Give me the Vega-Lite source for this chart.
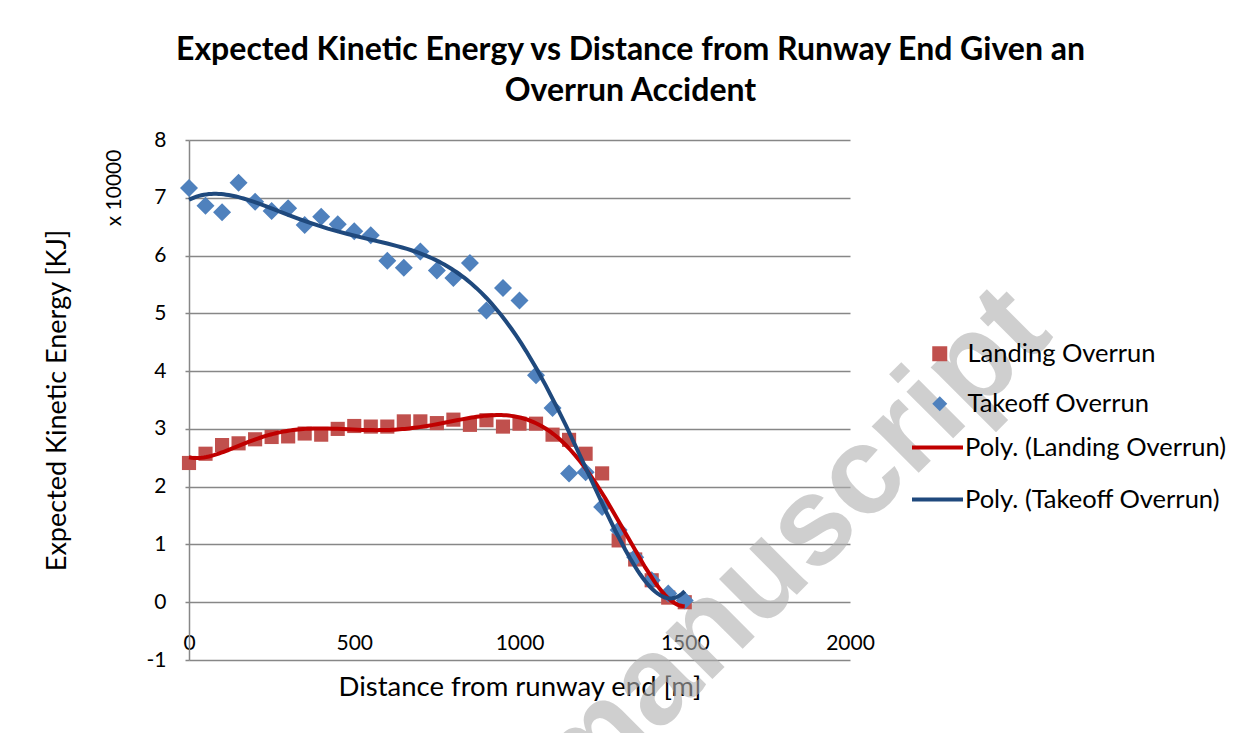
{
  "$schema": "https://vega.github.io/schema/vega-lite/v6.json",
  "width": 661,
  "height": 520,
  "autosize": {"type": "none"},
  "padding": {"left": 189, "top": 140, "right": 406, "bottom": 73},
  "background": "white",
  "config": {
    "font": "Lato",
    "view": {"stroke": null},
    "axis": {"labelColor": "#000000", "titleColor": "#000000", "titleFontWeight": "normal", "labelFont": "Lato", "titleFont": "Lato"}
  },
  "title": {
    "text": ["Expected Kinetic Energy vs Distance from Runway End Given an", "Overrun Accident"],
    "font": "Lato",
    "fontSize": 32,
    "fontWeight": "bold",
    "color": "#000000",
    "anchor": "middle",
    "frame": "group",
    "dx": 111,
    "offset": 21,
    "lineHeight": 41
  },
  "data": {
    "values": [
      {"dist": 0, "energy": 2.41, "series": "Landing Overrun", "trend": "Poly. (Landing Overrun)"},
      {"dist": 50, "energy": 2.57, "series": "Landing Overrun", "trend": "Poly. (Landing Overrun)"},
      {"dist": 100, "energy": 2.72, "series": "Landing Overrun", "trend": "Poly. (Landing Overrun)"},
      {"dist": 150, "energy": 2.75, "series": "Landing Overrun", "trend": "Poly. (Landing Overrun)"},
      {"dist": 200, "energy": 2.82, "series": "Landing Overrun", "trend": "Poly. (Landing Overrun)"},
      {"dist": 250, "energy": 2.86, "series": "Landing Overrun", "trend": "Poly. (Landing Overrun)"},
      {"dist": 300, "energy": 2.87, "series": "Landing Overrun", "trend": "Poly. (Landing Overrun)"},
      {"dist": 350, "energy": 2.92, "series": "Landing Overrun", "trend": "Poly. (Landing Overrun)"},
      {"dist": 400, "energy": 2.90, "series": "Landing Overrun", "trend": "Poly. (Landing Overrun)"},
      {"dist": 450, "energy": 3.00, "series": "Landing Overrun", "trend": "Poly. (Landing Overrun)"},
      {"dist": 500, "energy": 3.05, "series": "Landing Overrun", "trend": "Poly. (Landing Overrun)"},
      {"dist": 550, "energy": 3.04, "series": "Landing Overrun", "trend": "Poly. (Landing Overrun)"},
      {"dist": 600, "energy": 3.04, "series": "Landing Overrun", "trend": "Poly. (Landing Overrun)"},
      {"dist": 650, "energy": 3.13, "series": "Landing Overrun", "trend": "Poly. (Landing Overrun)"},
      {"dist": 700, "energy": 3.13, "series": "Landing Overrun", "trend": "Poly. (Landing Overrun)"},
      {"dist": 750, "energy": 3.10, "series": "Landing Overrun", "trend": "Poly. (Landing Overrun)"},
      {"dist": 800, "energy": 3.16, "series": "Landing Overrun", "trend": "Poly. (Landing Overrun)"},
      {"dist": 850, "energy": 3.07, "series": "Landing Overrun", "trend": "Poly. (Landing Overrun)"},
      {"dist": 900, "energy": 3.15, "series": "Landing Overrun", "trend": "Poly. (Landing Overrun)"},
      {"dist": 950, "energy": 3.04, "series": "Landing Overrun", "trend": "Poly. (Landing Overrun)"},
      {"dist": 1000, "energy": 3.09, "series": "Landing Overrun", "trend": "Poly. (Landing Overrun)"},
      {"dist": 1050, "energy": 3.09, "series": "Landing Overrun", "trend": "Poly. (Landing Overrun)"},
      {"dist": 1100, "energy": 2.90, "series": "Landing Overrun", "trend": "Poly. (Landing Overrun)"},
      {"dist": 1150, "energy": 2.81, "series": "Landing Overrun", "trend": "Poly. (Landing Overrun)"},
      {"dist": 1200, "energy": 2.57, "series": "Landing Overrun", "trend": "Poly. (Landing Overrun)"},
      {"dist": 1250, "energy": 2.23, "series": "Landing Overrun", "trend": "Poly. (Landing Overrun)"},
      {"dist": 1300, "energy": 1.07, "series": "Landing Overrun", "trend": "Poly. (Landing Overrun)"},
      {"dist": 1350, "energy": 0.74, "series": "Landing Overrun", "trend": "Poly. (Landing Overrun)"},
      {"dist": 1400, "energy": 0.38, "series": "Landing Overrun", "trend": "Poly. (Landing Overrun)"},
      {"dist": 1450, "energy": 0.08, "series": "Landing Overrun", "trend": "Poly. (Landing Overrun)"},
      {"dist": 1500, "energy": 0.0, "series": "Landing Overrun", "trend": "Poly. (Landing Overrun)"},
      {"dist": 0, "energy": 7.17, "series": "Takeoff Overrun", "trend": "Poly. (Takeoff Overrun)"},
      {"dist": 50, "energy": 6.86, "series": "Takeoff Overrun", "trend": "Poly. (Takeoff Overrun)"},
      {"dist": 100, "energy": 6.75, "series": "Takeoff Overrun", "trend": "Poly. (Takeoff Overrun)"},
      {"dist": 150, "energy": 7.26, "series": "Takeoff Overrun", "trend": "Poly. (Takeoff Overrun)"},
      {"dist": 200, "energy": 6.93, "series": "Takeoff Overrun", "trend": "Poly. (Takeoff Overrun)"},
      {"dist": 250, "energy": 6.77, "series": "Takeoff Overrun", "trend": "Poly. (Takeoff Overrun)"},
      {"dist": 300, "energy": 6.82, "series": "Takeoff Overrun", "trend": "Poly. (Takeoff Overrun)"},
      {"dist": 350, "energy": 6.53, "series": "Takeoff Overrun", "trend": "Poly. (Takeoff Overrun)"},
      {"dist": 400, "energy": 6.67, "series": "Takeoff Overrun", "trend": "Poly. (Takeoff Overrun)"},
      {"dist": 450, "energy": 6.54, "series": "Takeoff Overrun", "trend": "Poly. (Takeoff Overrun)"},
      {"dist": 500, "energy": 6.42, "series": "Takeoff Overrun", "trend": "Poly. (Takeoff Overrun)"},
      {"dist": 550, "energy": 6.35, "series": "Takeoff Overrun", "trend": "Poly. (Takeoff Overrun)"},
      {"dist": 600, "energy": 5.91, "series": "Takeoff Overrun", "trend": "Poly. (Takeoff Overrun)"},
      {"dist": 650, "energy": 5.79, "series": "Takeoff Overrun", "trend": "Poly. (Takeoff Overrun)"},
      {"dist": 700, "energy": 6.07, "series": "Takeoff Overrun", "trend": "Poly. (Takeoff Overrun)"},
      {"dist": 750, "energy": 5.74, "series": "Takeoff Overrun", "trend": "Poly. (Takeoff Overrun)"},
      {"dist": 800, "energy": 5.61, "series": "Takeoff Overrun", "trend": "Poly. (Takeoff Overrun)"},
      {"dist": 850, "energy": 5.87, "series": "Takeoff Overrun", "trend": "Poly. (Takeoff Overrun)"},
      {"dist": 900, "energy": 5.05, "series": "Takeoff Overrun", "trend": "Poly. (Takeoff Overrun)"},
      {"dist": 950, "energy": 5.44, "series": "Takeoff Overrun", "trend": "Poly. (Takeoff Overrun)"},
      {"dist": 1000, "energy": 5.22, "series": "Takeoff Overrun", "trend": "Poly. (Takeoff Overrun)"},
      {"dist": 1050, "energy": 3.93, "series": "Takeoff Overrun", "trend": "Poly. (Takeoff Overrun)"},
      {"dist": 1100, "energy": 3.36, "series": "Takeoff Overrun", "trend": "Poly. (Takeoff Overrun)"},
      {"dist": 1150, "energy": 2.23, "series": "Takeoff Overrun", "trend": "Poly. (Takeoff Overrun)"},
      {"dist": 1200, "energy": 2.25, "series": "Takeoff Overrun", "trend": "Poly. (Takeoff Overrun)"},
      {"dist": 1250, "energy": 1.65, "series": "Takeoff Overrun", "trend": "Poly. (Takeoff Overrun)"},
      {"dist": 1300, "energy": 1.25, "series": "Takeoff Overrun", "trend": "Poly. (Takeoff Overrun)"},
      {"dist": 1350, "energy": 0.78, "series": "Takeoff Overrun", "trend": "Poly. (Takeoff Overrun)"},
      {"dist": 1400, "energy": 0.38, "series": "Takeoff Overrun", "trend": "Poly. (Takeoff Overrun)"},
      {"dist": 1450, "energy": 0.15, "series": "Takeoff Overrun", "trend": "Poly. (Takeoff Overrun)"},
      {"dist": 1500, "energy": 0.03, "series": "Takeoff Overrun", "trend": "Poly. (Takeoff Overrun)"}
    ]
  },
  "encoding": {
    "x": {
      "field": "dist",
      "type": "quantitative",
      "scale": {"domain": [0, 2000], "nice": false, "zero": false},
      "axis": {
        "values": [0, 500, 1000, 1500, 2000],
        "format": "d",
        "offset": -58,
        "domain": false,
        "ticks": false,
        "grid": false,
        "labelFlush": false,
        "labelPadding": 30,
        "labelFontSize": 21,
        "title": "Distance from runway end [m]",
        "titleFontSize": 27.5,
        "titleY": 85,
        "titleBaseline": "middle"
      }
    },
    "y": {
      "field": "energy",
      "type": "quantitative",
      "scale": {"domain": [-1, 8], "nice": false, "zero": false},
      "axis": {
        "values": [-1, 0, 1, 2, 3, 4, 5, 6, 7, 8],
        "labelExpr": "'' + datum.value",
        "grid": true,
        "gridColor": "#878787",
        "gridWidth": 1.5,
        "domainColor": "#878787",
        "domainWidth": 1.5,
        "tickColor": "#878787",
        "tickSize": 4,
        "tickWidth": 1.5,
        "labelPadding": 19,
        "labelFontSize": 21,
        "title": "Expected Kinetic Energy [KJ]",
        "titleFontSize": 27,
        "titleAngle": -90,
        "titleX": -132,
        "titleY": 260,
        "titleAlign": "center",
        "titleBaseline": "middle"
      }
    }
  },
  "layer": [
    {
      "data": {"values": [{"px": 1818, "py": 0.94, "word": "manuscript"}]},
      "mark": {"type": "text", "angle": -45, "fontSize": 125, "font": "Liberation Sans", "fontWeight": "bold", "color": "#b0b0b0", "opacity": 0.6, "align": "center", "baseline": "middle"},
      "encoding": {
        "x": {"field": "px", "type": "quantitative"},
        "y": {"field": "py", "type": "quantitative"},
        "text": {"field": "word", "type": "nominal"}
      }
    },
    {
      "data": {"values": [{"px": -224, "py": 7.17, "word": "x 10000"}]},
      "mark": {"type": "text", "angle": -90, "fontSize": 21, "font": "Lato", "color": "#000000", "align": "center", "baseline": "middle"},
      "encoding": {
        "x": {"field": "px", "type": "quantitative"},
        "y": {"field": "py", "type": "quantitative"},
        "text": {"field": "word", "type": "nominal"}
      }
    },
    {
      "transform": [{"filter": {"field": "series", "equal": "Landing Overrun"}}],
      "mark": {"type": "point", "filled": true, "opacity": 1, "size": 200},
      "encoding": {
        "color": {
          "field": "series",
          "type": "nominal",
          "scale": {"domain": ["Landing Overrun", "Takeoff Overrun"], "range": ["#C0504D", "#4F81BD"]},
          "legend": {
            "orient": "none",
            "legendX": 738,
            "legendY": 201,
            "title": null,
            "padding": 0,
            "labelFont": "Lato",
            "labelFontSize": 25.5,
            "labelColor": "#000000",
            "labelLimit": 400,
            "labelOffset": 15,
            "symbolSize": 225,
            "symbolOpacity": 1,
            "rowPadding": 23
          }
        },
        "shape": {
          "field": "series",
          "type": "nominal",
          "scale": {"domain": ["Landing Overrun", "Takeoff Overrun"], "range": ["square", "diamond"]}
        }
      }
    },
    {
      "transform": [{"filter": {"field": "series", "equal": "Takeoff Overrun"}}],
      "mark": {"type": "point", "filled": true, "opacity": 1, "size": 324},
      "encoding": {
        "color": {
          "field": "series",
          "type": "nominal",
          "scale": {"domain": ["Landing Overrun", "Takeoff Overrun"], "range": ["#C0504D", "#4F81BD"]}
        },
        "shape": {
          "field": "series",
          "type": "nominal",
          "scale": {"domain": ["Landing Overrun", "Takeoff Overrun"], "range": ["square", "diamond"]}
        }
      }
    },
    {
      "transform": [{"regression": "energy", "on": "dist", "groupby": ["trend"], "method": "poly", "order": 6, "extent": [0, 1500]}],
      "mark": {"type": "line", "strokeWidth": 4},
      "encoding": {
        "stroke": {
          "field": "trend",
          "type": "nominal",
          "scale": {"domain": ["Poly. (Landing Overrun)", "Poly. (Takeoff Overrun)"], "range": ["#C00000", "#1F497D"]},
          "legend": {
            "orient": "none",
            "legendX": 721,
            "legendY": 280,
            "title": null,
            "padding": 0,
            "labelFont": "Lato",
            "labelFontSize": 25.5,
            "labelColor": "#000000",
            "labelLimit": 400,
            "labelOffset": 0,
            "symbolType": "stroke",
            "symbolSize": 2601,
            "symbolStrokeWidth": 4,
            "rowPadding": 11
          }
        }
      }
    }
  ]
}
